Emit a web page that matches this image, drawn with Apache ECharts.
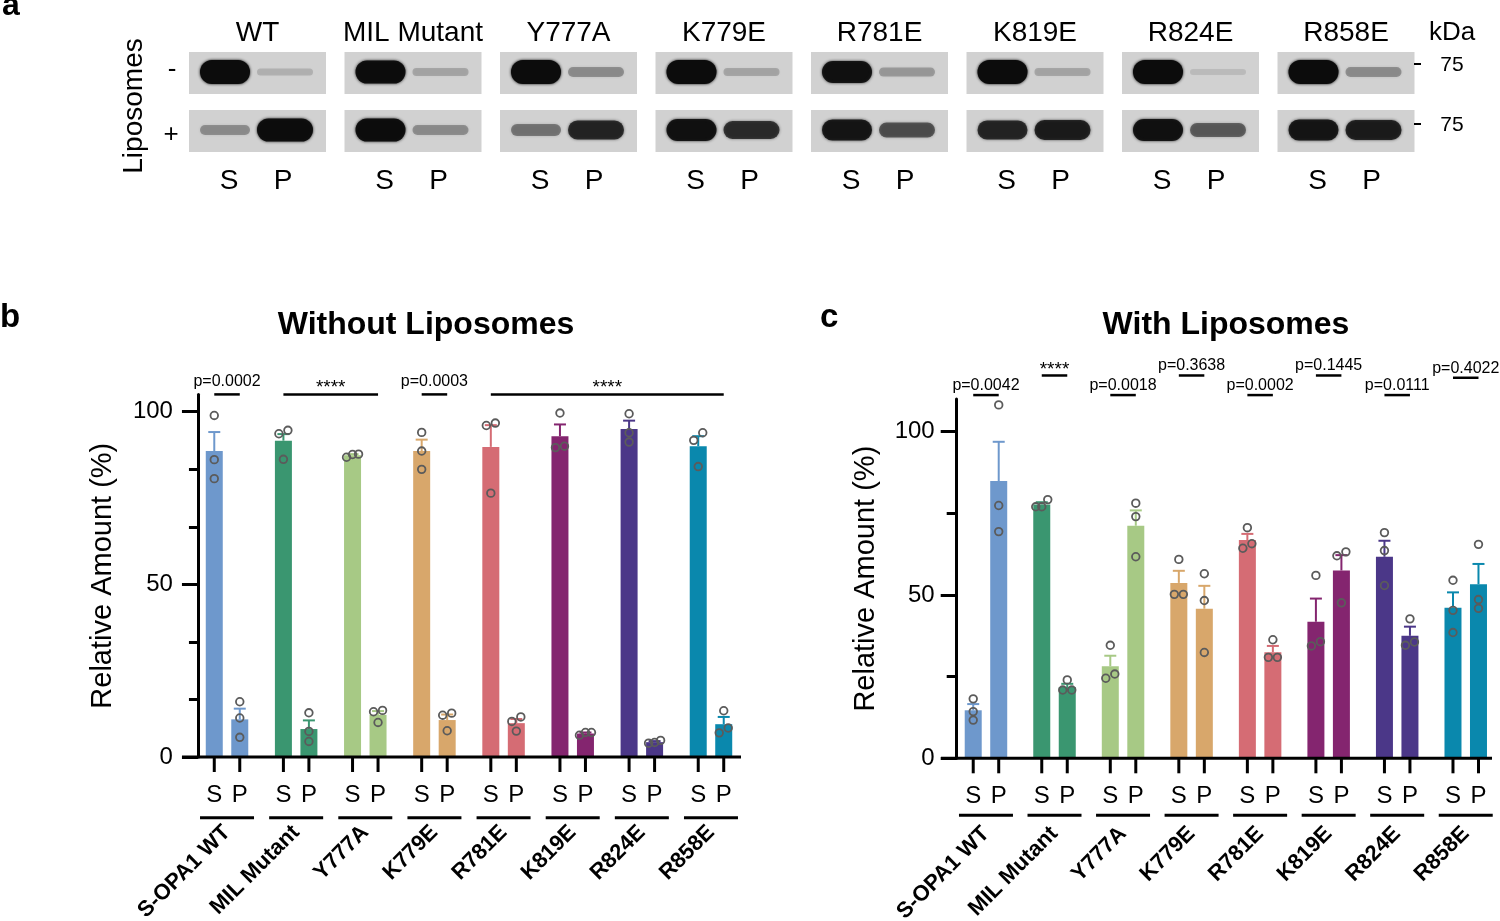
<!DOCTYPE html>
<html><head><meta charset="utf-8">
<script src="https://cdn.jsdelivr.net/npm/echarts@6/dist/echarts.min.js"></script>
<style>html,body{margin:0;padding:0;background:#fff}#c{width:1500px;height:921px}</style>
</head><body><div id="c"></div>
<script>
const FONT = '"Liberation Sans", Arial, Helvetica, sans-serif';

// ---------- categories ----------
const groups = ['S-OPA1 WT','MIL Mutant','Y777A','K779E','R781E','K819E','R824E','R858E'];
const gelNames = ['WT','MIL Mutant','Y777A','K779E','R781E','K819E','R824E','R858E'];
const sideLabels = ['S','P'];
const barColors = ['#6e98cc','#3a9670','#a7c985','#d8a76b','#d56c74','#84256f','#4b3788','#0a88ad'];
const yTickLabels = [0, 50, 100];
const yMinorB = [50/3, 100/3, 200/3, 250/3];
const yMinorC = [25, 75];

// ---------- panel b : without liposomes ----------
const woS      = [88.6, 91.6, 87.4, 88.6, 89.8, 92.9, 95.0, 90.0];
const woS_sem  = [5.5, 1.9, 0.3, 3.3, 6.3, 3.4, 2.4, 2.9];
const woS_pts  = [[98.9,86.1,80.6],[94.6,93.6,86.2],[86.8,87.6,87.7],[94.0,88.6,83.3],[96.7,96.0,76.4],[99.6,89.6,90.0],[99.4,93.9,91.2],[93.9,91.7,84.1]];
const woP      = [10.9, 8.1, 12.2, 10.7, 9.8, 6.8, 4.3, 9.5];
const woP_sem  = [3.1, 2.5, 1.1, 1.6, 1.2, 0.3, 0.3, 2.1];
const woP_pts  = [[16.0,11.3,5.7],[12.8,7.4,4.5],[13.5,13.1,10.0],[12.7,12.1,7.6],[11.6,10.3,7.5],[6.3,7.1,7.1],[4.0,4.8,4.2],[13.4,7.0,8.4]];
const sigB_text  = ['p=0.0002','****','p=0.0003','****'];
const sigB_from  = [[0,0],[1,0],[3,0],[4,0]];
const sigB_to    = [[0,1],[2,1],[3,1],[7,1]];
const sigB_level = [105, 105, 105, 105];

// ---------- panel c : with liposomes ----------
const wS      = [14.7, 77.7, 28.2, 53.7, 66.8, 41.8, 61.7, 46.1];
const wS_sem  = [1.9, 0.7, 3.2, 3.7, 1.9, 7.1, 4.9, 4.7];
const wS_pts  = [[18.2,14.3,11.7],[79.2,77.0,77.0],[34.6,25.8,24.5],[60.9,50.2,50.2],[70.6,64.3,65.7],[56.0,34.4,35.7],[69.1,63.6,52.9],[54.5,45.3,38.5]];
const wP      = [84.9, 21.8, 71.2, 45.8, 32.5, 57.5, 37.5, 53.3];
const wP_sem  = [12.0, 1.0, 4.7, 7.0, 1.9, 4.7, 2.8, 6.2];
const wP_pts  = [[108.2,77.4,69.4],[24.0,20.9,20.9],[78.1,74.0,61.7],[56.5,48.3,32.4],[36.3,30.9,30.9],[63.2,62.0,47.6],[42.7,34.6,35.6],[65.5,48.6,45.9]];
const sigC_text  = ['p=0.0042','****','p=0.0018','p=0.3638','p=0.0002','p=0.1445','p=0.0111','p=0.4022'];
const sigC_level = [111.2, 117.2, 111.2, 117.2, 111.2, 117.2, 111.2, 116.5];

// ---------- gel band intensities (panel a) ----------
const gelMinus = [[1.0,0.15],[0.95,0.2],[1.0,0.3],[1.0,0.2],[0.9,0.25],[1.0,0.2],[1.0,0.1],[1.0,0.3]];
const gelPlus  = [[0.3,0.95],[0.95,0.3],[0.4,0.75],[0.9,0.7],[0.85,0.55],[0.75,0.8],[0.9,0.5],[0.85,0.8]];

// ---------- layout constants ----------
const BAR_W = 17, HALF = 12.75;

function dotOffsets(vals, ppu) {
  const idx = vals.map((v,i)=>i).sort((a,b)=>vals[a]-vals[b]);
  const off = vals.map(()=>0);
  let cl = [idx[0]];
  const flush = () => { const n = cl.length; if (n > 1) { const sp = n === 2 ? 9 : 6; cl.forEach((j,m)=>{ off[j] = (m-(n-1)/2)*sp; }); } };
  for (let t = 1; t < idx.length; t++) {
    if ((vals[idx[t]] - vals[idx[t-1]]) * ppu < 8) cl.push(idx[t]); else { flush(); cl = [idx[t]]; }
  }
  flush();
  return off;
}

function barSeries(gi, vals, name) {
  return { type:'bar', name, xAxisIndex:gi, yAxisIndex:gi*2, barWidth:BAR_W, barGap:'50%',
    data: vals.map((v,i)=>({value:v, itemStyle:{color:barColors[i]}})), silent:true, z:2 };
}

function markSeries(gi, means, sems, pts) {
  return { type:'custom', xAxisIndex:gi, yAxisIndex:gi*2, z:5, clip:false, silent:true,
    data: groups.flatMap((_,g)=>[[g,0],[g,1]]),
    renderItem(params, api) {
      const g = Math.floor(params.dataIndex/2), k = params.dataIndex % 2;
      const m = means[k][g], s = sems[k][g], p = pts[k][g];
      const cx = api.coord([g, 0])[0] + (k ? HALF : -HALF);
      const ppu = api.coord([g,0])[1] - api.coord([g,1])[1];
      const base = api.coord([g, m])[1], top = api.coord([g, m + s])[1];
      const col = barColors[g];
      const ch = [];
      ch.push({type:'line', shape:{x1:cx,y1:base,x2:cx,y2:top}, style:{stroke:col,lineWidth:2}});
      ch.push({type:'line', shape:{x1:cx-6,y1:top,x2:cx+6,y2:top}, style:{stroke:col,lineWidth:2}});
      const off = dotOffsets(p, ppu);
      p.forEach((v,j)=>{
        ch.push({type:'circle', shape:{cx:cx+off[j], cy:api.coord([g,v])[1], r:3.8},
          style:{fill:'none', stroke:'#5b5b5b', lineWidth:1.8}});
      });
      return {type:'group', children:ch};
    }};
}

function decoSeries(gi, labDy, lineDy) {
  return { type:'custom', xAxisIndex:gi, yAxisIndex:gi*2, clip:false, silent:true, z:4,
    data: groups.map((_,g)=>[g,0]),
    renderItem(params, api) {
      const [cx, y0] = api.coord([params.dataIndex, 0]);
      const ch = [];
      [-HALF, HALF].forEach((d,k)=>{
        ch.push({type:'line', shape:{x1:cx+d,y1:y0,x2:cx+d,y2:y0+15}, style:{stroke:'#000',lineWidth:3}});
        ch.push({type:'text', style:{text:sideLabels[k], x:cx+d, y:y0+labDy, font:`24px ${FONT}`, fill:'#000', align:'center', verticalAlign:'middle'}});
      });
      ch.push({type:'line', shape:{x1:cx-27,y1:y0+lineDy,x2:cx+27,y2:y0+lineDy}, style:{stroke:'#000',lineWidth:3}});
      return {type:'group', children:ch};
    }};
}

function sigSeries(gi, from, to, level, texts, textGap, starGap) {
  return { type:'custom', xAxisIndex:gi, yAxisIndex:gi*2, clip:false, silent:true, z:6,
    data: texts.map((_,i)=>[from[i][0], level[i]]),
    renderItem(params, api) {
      const i = params.dataIndex;
      const x1 = api.coord([from[i][0],0])[0] + (from[i][1] ? HALF : -HALF);
      const x2 = api.coord([to[i][0],0])[0] + (to[i][1] ? HALF : -HALF);
      const y = api.coord([from[i][0], level[i]])[1];
      const star = texts[i].charAt(0) === '*';
      return {type:'group', children:[
        {type:'line', shape:{x1,y1:y,x2,y2:y}, style:{stroke:'#000',lineWidth:2.5}},
        {type:'text', style:{text:texts[i], x:(x1+x2)/2, y:y-(star?starGap:textGap),
          font:(star?'19px ':'16px ')+FONT, fill:'#000', align:'center', verticalAlign:'middle'}}
      ]};
    }};
}

function yAxisMain(gi, max, offset, margin, nameGap) {
  return { type:'value', gridIndex:gi, min:0, max, interval:50, offset,
    axisLine:{show:true, onZero:false, lineStyle:{color:'#000', width:3}},
    axisTick:{show:true, length:16, lineStyle:{color:'#000', width:3}, customValues:yTickLabels},
    axisLabel:{customValues:yTickLabels, fontSize:24, fontFamily:FONT, color:'#000', margin,
      formatter:v => (yTickLabels.indexOf(v) >= 0 ? String(v) : '')},
    splitLine:{show:false},
    name:'Relative Amount (%)', nameLocation:'middle', nameGap,
    nameTextStyle:{fontSize:29, fontFamily:FONT, color:'#000'} };
}
function yAxisMinor(gi, max, offset, vals, len) {
  return { type:'value', gridIndex:gi, min:0, max, offset, position:'left',
    axisLine:{show:false},
    axisTick:{show:true, length:len, lineStyle:{color:'#000', width:3}, customValues:vals},
    axisLabel:{show:false}, splitLine:{show:false} };
}
function xAxisOpt(gi) {
  return { type:'category', gridIndex:gi, data:groups, boundaryGap:true,
    axisLine:{show:false}, axisTick:{show:false},
    axisLabel:{interval:0, rotate:45, margin:72, fontSize:22, fontWeight:'bold', fontFamily:FONT, color:'#000'} };
}

// ---------- graphic: gel panel, titles, letters ----------
const graphic = [];
function txt(text, x, y, size, opts) {
  opts = opts || {};
  graphic.push({type:'text', x, y, rotation:opts.rot||0, silent:true,
    style:{text, font:`${opts.bold?'bold ':''}${size}px ${FONT}`, fill:'#000', align:opts.align||'center', verticalAlign:opts.va||'middle'}});
}
gelNames.forEach((nm, i) => {
  const x0 = 189 + 155.5 * i;
  txt(nm, x0 + 68.5, 33, 28);
  [[52, gelMinus[i]], [110, gelPlus[i]]].forEach(([top, ints]) => {
    graphic.push({type:'rect', silent:true, shape:{x:x0, y:top, width:137, height:42}, style:{fill:'#d1d1d1'}});
    ints.forEach((a, k) => {
      const cx = x0 + (k ? 96 : 36), w = k ? 56 : 50, h = 4 + 20 * a, cy = top + 20;
      graphic.push({type:'rect', silent:true, shape:{x:cx-w/2, y:cy-h/2, width:w, height:h, r:h/2},
        style:{fill:`rgba(12,12,12,${a})`, shadowBlur:3, shadowColor:`rgba(12,12,12,${a})`}});
    });
  });
  txt('S', x0 + 40, 181, 28);
  txt('P', x0 + 94, 181, 28);
});
txt('Liposomes', 134, 106, 28, {rot:Math.PI/2});
txt('-', 172, 70, 26);
txt('+', 171, 135, 26);
txt('kDa', 1452, 33, 26);
txt('75', 1452, 65, 21);
txt('75', 1452, 125, 21);
graphic.push({type:'line', silent:true, shape:{x1:1414,y1:64,x2:1421,y2:64}, style:{stroke:'#000',lineWidth:2}});
graphic.push({type:'line', silent:true, shape:{x1:1414,y1:124,x2:1421,y2:124}, style:{stroke:'#000',lineWidth:2}});
txt('a', 2, 22, 32, {bold:true, align:'left', va:'bottom'});
txt('b', 0, 334, 33, {bold:true, align:'left', va:'bottom'});
txt('c', 820, 334, 33, {bold:true, align:'left', va:'bottom'});
txt('Without Liposomes', 426, 325, 32, {bold:true});
txt('With Liposomes', 1226, 325, 32, {bold:true});
// x-axis baselines (extend left of the y axes like the original)
graphic.push({type:'line', silent:true, z:10, shape:{x1:182,y1:757,x2:741,y2:757}, style:{stroke:'#000',lineWidth:3}});
graphic.push({type:'line', silent:true, z:10, shape:{x1:941,y1:758.3,x2:1492,y2:758.3}, style:{stroke:'#000',lineWidth:3}});

const chart = echarts.init(document.getElementById('c'), null, {renderer:'canvas'});
chart.setOption({
  animation:false,
  backgroundColor:'#fff',
  grid:[
    {left:192.45, top:394.4, width:553.1, height:362.6, containLabel:false, outerBoundsMode:'none'},
    {left:951.7, top:399, width:548.3, height:359.3, containLabel:false, outerBoundsMode:'none'}
  ],
  xAxis:[xAxisOpt(0), xAxisOpt(1)],
  yAxis:[
    yAxisMain(0, 105, -5.5, 25, 80),
    yAxisMinor(0, 105, -5.5, yMinorB, 9),
    yAxisMain(1, 110, -5, 22, 76),
    yAxisMinor(1, 110, -5, yMinorC, 10)
  ],
  series:[
    barSeries(0, woS, 'S'), barSeries(0, woP, 'P'),
    markSeries(0, [woS, woP], [woS_sem, woP_sem], [woS_pts, woP_pts]),
    decoSeries(0, 38, 60.7),
    sigSeries(0, sigB_from, sigB_to, sigB_level, sigB_text, 12.5, 7),
    barSeries(1, wS, 'S'), barSeries(1, wP, 'P'),
    markSeries(1, [wS, wP], [wS_sem, wP_sem], [wS_pts, wP_pts]),
    decoSeries(1, 37.7, 57),
    sigSeries(1, groups.map((_,g)=>[g,0]), groups.map((_,g)=>[g,1]), sigC_level, sigC_text, 9.5, 6)
  ],
  graphic:{elements:graphic}
});
</script></body></html>
